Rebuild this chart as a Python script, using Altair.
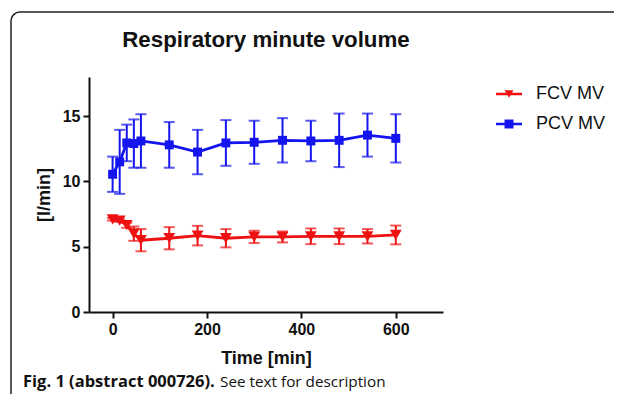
import altair as alt
import pandas as pd

# ---- data ----
time_min = [0, 15, 30, 45, 60, 120, 180, 240, 300, 360, 420, 480, 540, 600]
pcv_mean = [10.55, 11.5, 12.95, 12.9, 13.1, 12.8, 12.25, 12.95, 13.0, 13.15, 13.1, 13.15, 13.55, 13.3]
pcv_sd = [1.35, 2.45, 1.4, 1.85, 2.05, 1.75, 1.7, 1.75, 1.65, 1.7, 1.55, 2.05, 1.65, 1.85]
fcv_mean = [7.1, 7.0, 6.65, 6.0, 5.5, 5.65, 5.85, 5.65, 5.75, 5.75, 5.8, 5.8, 5.8, 5.9]
fcv_sd = [0.1, 0.1, 0.2, 0.55, 0.85, 0.85, 0.75, 0.7, 0.47, 0.42, 0.6, 0.6, 0.55, 0.72]
series = ["FCV MV", "PCV MV"]
colors = ["#ee1111", "#1414ee"]
shapes = ["triangle-down", "square"]
x_ticks = [0, 200, 400, 600]
y_ticks = [0, 5, 10, 15]
title_text = "Respiratory minute volume"
caption_bold = "Fig. 1 (abstract 000726)."
caption_norm = "See text for description"

rows = []
for t, m, s in zip(time_min, fcv_mean, fcv_sd):
    rows.append({"t": t, "mean": m, "lo": m - s, "hi": m + s, "series": series[0]})
for t, m, s in zip(time_min, pcv_mean, pcv_sd):
    rows.append({"t": t, "mean": m, "lo": m - s, "hi": m + s, "series": series[1]})
df = pd.DataFrame(rows)

FONT = "Liberation Sans"

x_scale = alt.Scale(domain=[-50, 700], nice=False, zero=False)
y_scale = alt.Scale(domain=[0, 18], nice=False)
x_axis = alt.Axis(values=x_ticks, title="Time [min]", titleFontSize=18, titlePadding=12)
y_axis = alt.Axis(values=y_ticks, title="[l/min]", titleFontSize=18, titlePadding=9)
color_enc = alt.Color("series:N", scale=alt.Scale(domain=series, range=colors), legend=None)
shape_enc = alt.Shape("series:N", scale=alt.Scale(domain=series, range=shapes), legend=None)
size_enc = alt.Size("series:N", scale=alt.Scale(domain=series, range=[140, 80]), legend=None)

base = alt.Chart(df)

errs = base.mark_errorbar(ticks={"size": 11, "strokeWidth": 2}, rule={"strokeWidth": 2},
                          thickness=2).encode(
    x=alt.X("t:Q", scale=x_scale, axis=x_axis, title="Time [min]"),
    y=alt.Y("lo:Q", scale=y_scale, axis=y_axis, title="[l/min]"),
    y2="hi:Q", color=color_enc)
lines = base.mark_line(strokeWidth=2.8).encode(
    x=alt.X("t:Q", scale=x_scale, axis=x_axis, title="Time [min]"),
    y=alt.Y("mean:Q", scale=y_scale, axis=y_axis, title="[l/min]"),
    color=color_enc)
points = base.mark_point(filled=True, opacity=1).encode(
    x=alt.X("t:Q", title="Time [min]"), y=alt.Y("mean:Q", title="[l/min]"),
    color=color_enc, shape=shape_enc, size=size_enc)

# legend (line + marker + label), one small chart per entry
legend_layers = []
for i, name in enumerate(series):
    ldf = pd.DataFrame({"series": [name]})
    yy = 17 + 30 * i
    lb = alt.Chart(ldf)
    legend_layers.append(lb.mark_rule(strokeWidth=2.5).encode(
        x=alt.value(407), x2=alt.value(433), y=alt.value(yy), color=color_enc))
    legend_layers.append(lb.mark_point(filled=True, opacity=1).encode(
        x=alt.value(420), y=alt.value(yy), color=color_enc, shape=shape_enc,
        size=alt.value(80)))
    legend_layers.append(lb.mark_text(align="left", baseline="middle", fontSize=18,
                                      font=FONT, color="#111").encode(
        x=alt.value(447), y=alt.value(yy), text="series:N"))

# title, caption and frame
tdf = pd.DataFrame({"title": [title_text], "bold": [caption_bold], "norm": [caption_norm]})
title_mark = alt.Chart(tdf).mark_text(align="center", baseline="alphabetic", fontSize=22.3,
                                      fontWeight="bold", font=FONT, color="#111").encode(
    x=alt.value(177), y=alt.value(-30), text="title:N")
cap_b = alt.Chart(tdf).mark_text(align="left", baseline="middle", fontSize=16.5,
                                 fontWeight="bold", font="Open Sans", color="#111").encode(
    x=alt.value(-66), y=alt.value(305), text="bold:N")
cap_n = alt.Chart(tdf).mark_text(align="left", baseline="middle", fontSize=15.3,
                                 font="Open Sans", color="#111").encode(
    x=alt.value(131), y=alt.value(305), text="norm:N")
frame = alt.Chart(tdf).mark_rect(fill=None, stroke="#222", strokeWidth=1.5,
                                 cornerRadius=9).encode(
    x=alt.value(-78), x2=alt.value(560), y=alt.value(-65), y2=alt.value(345))

chart = alt.layer(frame, errs, lines, points, *legend_layers, title_mark, cap_b, cap_n).properties(
    width=354, height=235,
    autosize=alt.AutoSizeParams(type="none"),
    padding={"left": 81, "top": 69, "right": 171, "bottom": 82},
).configure_view(stroke=None).configure_axis(
    grid=False, domainColor="#111", domainWidth=2, tickColor="#111", tickWidth=2,
    tickSize=6, labelFont=FONT, labelFontSize=16, labelFontWeight="bold",
    labelColor="#111", titleFont=FONT, titleFontWeight="bold", titleColor="#111",
    labelPadding=3,
)

chart.save("out.html", embed_options={"renderer": "svg", "actions": False})
